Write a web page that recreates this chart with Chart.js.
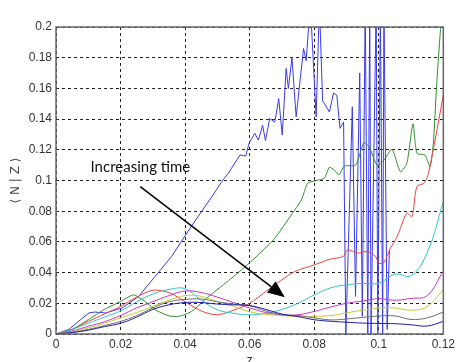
<!DOCTYPE html>
<html>
<head>
<meta charset="utf-8">
<script src="https://cdn.jsdelivr.net/npm/chart.js@4.4.0/dist/chart.umd.min.js"></script>
<style>
  html, body { margin: 0; padding: 0; background: #fff; }
  #wrap { width: 458px; height: 362px; }
</style>
</head>
<body>
<div id="wrap"><canvas id="chart"></canvas></div>
<script>
// tick values
const xTicks = [0, 0.02, 0.04, 0.06, 0.08, 0.1, 0.12];
const yTicks = [0, 0.02, 0.04, 0.06, 0.08, 0.1, 0.12, 0.14, 0.16, 0.18, 0.2];

// shared z grid for the smooth curves
const zGrid = [0, 0.005, 0.01, 0.015, 0.02, 0.025, 0.03, 0.035, 0.04, 0.045, 0.05, 0.055, 0.06,
  0.065, 0.07, 0.075, 0.08, 0.085, 0.09, 0.095, 0.1, 0.105, 0.11, 0.115, 0.12];

const cyanVals = [0, 0.003, 0.007, 0.011, 0.015, 0.021, 0.026, 0.029, 0.0295, 0.022, 0.0158, 0.0135, 0.0125,
  0.0135, 0.016, 0.020, 0.0255, 0.030, 0.032, 0.033, 0.033, 0.039, 0.038, 0.053, 0.086];
const magentaVals = [0, 0.002, 0.005, 0.008, 0.012, 0.017, 0.021, 0.025, 0.028, 0.027, 0.024, 0.0205, 0.017,
  0.014, 0.0125, 0.0125, 0.0147, 0.0175, 0.020, 0.0215, 0.023, 0.022, 0.0232, 0.025, 0.041];
const yellowVals = [0, 0.0015, 0.004, 0.007, 0.0105, 0.014, 0.018, 0.022, 0.025, 0.0245, 0.021, 0.018, 0.0145,
  0.0128, 0.012, 0.0115, 0.0115, 0.012, 0.0138, 0.0155, 0.0168, 0.017, 0.0155, 0.018, 0.029];
const grayVals = [0, 0.001, 0.003, 0.0055, 0.0082, 0.012, 0.017, 0.021, 0.0225, 0.0228, 0.021, 0.0195, 0.0185,
  0.015, 0.0125, 0.012, 0.0105, 0.0092, 0.0098, 0.0108, 0.0117, 0.0118, 0.0095, 0.0105, 0.0143];
const navyVals = [0, 0.001, 0.0025, 0.0048, 0.007, 0.011, 0.016, 0.019, 0.0205, 0.0205, 0.0195, 0.019, 0.0185,
  0.016, 0.013, 0.0113, 0.0093, 0.0083, 0.0077, 0.0071, 0.0069, 0.0067, 0.006, 0.0052, 0.0082];

// red curve
const redZ = [0, 0.005, 0.01, 0.015, 0.02, 0.025, 0.03, 0.035, 0.04, 0.045, 0.05, 0.055, 0.06, 0.065, 0.07,
  0.074, 0.08, 0.085, 0.089, 0.0903, 0.0934, 0.0964, 0.099, 0.1, 0.1016, 0.1036, 0.1057, 0.1087, 0.1103,
  0.1118, 0.1139, 0.1154, 0.12];
const redVals = [0, 0.003, 0.0082, 0.013, 0.018, 0.024, 0.0285, 0.027, 0.021, 0.015, 0.0125, 0.0155, 0.020,
  0.0277, 0.0353, 0.0407, 0.045, 0.0488, 0.0505, 0.0548, 0.0527, 0.0537, 0.0505, 0.0462, 0.0466, 0.0559,
  0.0635, 0.0787, 0.0765, 0.096, 0.0982, 0.1047, 0.1556];

// green curve
const greenZ = [0, 0.005, 0.01, 0.015, 0.02, 0.024, 0.027, 0.031, 0.035, 0.038, 0.042, 0.0473, 0.0524,
  0.0575, 0.0627, 0.0678, 0.0729, 0.076, 0.078, 0.0806, 0.0831, 0.0847, 0.0862, 0.0877, 0.0893, 0.0928,
  0.0954, 0.097, 0.0995, 0.1016, 0.1041, 0.1067, 0.1087, 0.1106, 0.1118, 0.1143, 0.1159, 0.1169, 0.1179,
  0.1192, 0.12];
const greenVals = [0, 0.003, 0.0093, 0.016, 0.0212, 0.0255, 0.022, 0.0155, 0.0118, 0.0115, 0.0147, 0.0245,
  0.033, 0.0418, 0.0516, 0.0624, 0.0776, 0.0873, 0.0982, 0.100, 0.1014, 0.1086, 0.1068, 0.1036, 0.1094,
  0.110, 0.1246, 0.122, 0.110, 0.1133, 0.1203, 0.1057, 0.1112, 0.137, 0.1177, 0.1166, 0.109, 0.124, 0.161,
  0.2, 0.21];

// blue curve (noisy, blows up near z = 0.09)
const blueZ = [0, 0.004, 0.008, 0.0102, 0.012, 0.0154, 0.0205, 0.0256, 0.0307, 0.0358, 0.0422, 0.0483,
  0.0517, 0.0534, 0.057, 0.0588, 0.0598, 0.0616, 0.0627, 0.064, 0.0649, 0.0662, 0.0678, 0.069, 0.0701,
  0.0713, 0.072, 0.0731, 0.0744, 0.0767, 0.0775, 0.0788, 0.0806, 0.0816, 0.0826, 0.0847, 0.086, 0.087,
  0.088, 0.0891, 0.0898, 0.0918, 0.0928, 0.0941, 0.0949, 0.0958, 0.0966, 0.0972, 0.0976, 0.0992, 0.0997,
  0.1005, 0.1012, 0.1016, 0.1026, 0.1033];
const blueVals = [0, 0.003, 0.010, 0.0137, 0.0143, 0.0137, 0.017, 0.0245, 0.0375, 0.0505, 0.071, 0.0895,
  0.1003, 0.1047, 0.1166, 0.116, 0.1242, 0.1307, 0.1263, 0.136, 0.126, 0.1404, 0.138, 0.1534, 0.1296,
  0.173, 0.16, 0.180, 0.1415, 0.186, 0.178, 0.215, 0.1415, 0.215, 0.152, 0.1447, 0.157, 0.1556,
  0.134, 0.138, 0, 0.148, 0.0245, 0.17, 0.0115, 0.215, 0, 0.215, 0, 0.215, 0,
  0.215, 0, 0.215, 0.003, 0.055];

// annotation: text anchor and arrow ends, in data units
const noteText = 'Increasing time';
const notePos = [0.0107, 0.1057];
const arrowFrom = [0.0261, 0.096];
const arrowTo = [0.0709, 0.024];

function pts(xs, ys) {
  return xs.map((x, i) => ({ x: x, y: ys[i] }));
}

function line(data, color, tension) {
  return { data: data, borderColor: color, borderWidth: 1, pointRadius: 0, tension: tension, fill: false };
}

const annotate = {
  id: 'annotate',
  afterDatasetsDraw(chart) {
    const { ctx, chartArea, scales: { x, y } } = chart;
    ctx.save();
    // axes box
    ctx.strokeStyle = '#666';
    ctx.lineWidth = 1.5;
    ctx.strokeRect(chartArea.left, chartArea.top, chartArea.right - chartArea.left, chartArea.bottom - chartArea.top);

    // text
    ctx.fillStyle = '#111';
    ctx.font = '15px Lato';
    ctx.textBaseline = 'alphabetic';
    ctx.fillText(noteText, x.getPixelForValue(notePos[0]), y.getPixelForValue(notePos[1]));

    // arrow
    const x1 = x.getPixelForValue(arrowFrom[0]), y1 = y.getPixelForValue(arrowFrom[1]);
    const x2 = x.getPixelForValue(arrowTo[0]), y2 = y.getPixelForValue(arrowTo[1]);
    const ang = Math.atan2(y2 - y1, x2 - x1);
    const len = 17, half = 7;
    const bx = x2 - len * Math.cos(ang), by = y2 - len * Math.sin(ang);
    ctx.strokeStyle = '#000';
    ctx.lineWidth = 1.5;
    ctx.beginPath();
    ctx.moveTo(x1, y1);
    ctx.lineTo(bx, by);
    ctx.stroke();
    ctx.fillStyle = '#000';
    ctx.beginPath();
    ctx.moveTo(x2, y2);
    ctx.lineTo(bx + half * Math.sin(ang), by - half * Math.cos(ang));
    ctx.lineTo(bx - half * Math.sin(ang), by + half * Math.cos(ang));
    ctx.closePath();
    ctx.fill();
    ctx.restore();
  }
};

const tickFmt = v => String(Number(v.toFixed(2)));

new Chart(document.getElementById('chart'), {
  type: 'line',
  data: {
    datasets: [
      line(pts(zGrid, navyVals), '#1c1cb0', 0.4),
      line(pts(zGrid, grayVals), '#6e6e6e', 0.4),
      line(pts(zGrid, yellowVals), '#c8c832', 0.4),
      line(pts(zGrid, magentaVals), '#c238c2', 0.4),
      line(pts(zGrid, cyanVals), '#33c4c8', 0.4),
      line(pts(redZ, redVals), '#f04040', 0.3),
      line(pts(greenZ, greenVals), '#2f8f2f', 0.2),
      line(pts(blueZ, blueVals), '#3a3aee', 0)
    ]
  },
  options: {
    responsive: true,
    maintainAspectRatio: false,
    animation: false,
    layout: { padding: { top: 27, right: 11, left: 0, bottom: 0 } },
    plugins: { legend: { display: false }, tooltip: { enabled: false } },
    scales: {
      x: {
        type: 'linear', min: 0, max: 0.12,
        afterBuildTicks: s => { s.ticks = xTicks.map(v => ({ value: v })); },
        afterFit: s => { s.height = 28; },
        grid: { color: '#222', lineWidth: 1, drawTicks: false },
        border: { display: false, dash: [3, 3] },
        ticks: { callback: tickFmt, padding: 3, color: '#333', font: { family: 'Liberation Sans', size: 12 }, maxRotation: 0 },
        title: { display: true, text: 'z', color: '#333', font: { family: 'Liberation Sans', size: 12 }, padding: { top: 0, bottom: -6 } }
      },
      y: {
        min: 0, max: 0.2,
        afterBuildTicks: s => { s.ticks = yTicks.map(v => ({ value: v })); },
        afterFit: s => { s.width = 56; },
        grid: { color: '#222', lineWidth: 1, drawTicks: false },
        border: { display: false, dash: [3, 3] },
        ticks: { callback: tickFmt, padding: 4, color: '#333', font: { family: 'Liberation Sans', size: 12 } },
        title: { display: true, text: '⟨ N | Z ⟩', color: '#444', font: { family: 'DejaVu Sans', size: 12 }, padding: { top: 9, bottom: 0 } }
      }
    }
  },
  plugins: [annotate]
});
</script>
</body>
</html>
